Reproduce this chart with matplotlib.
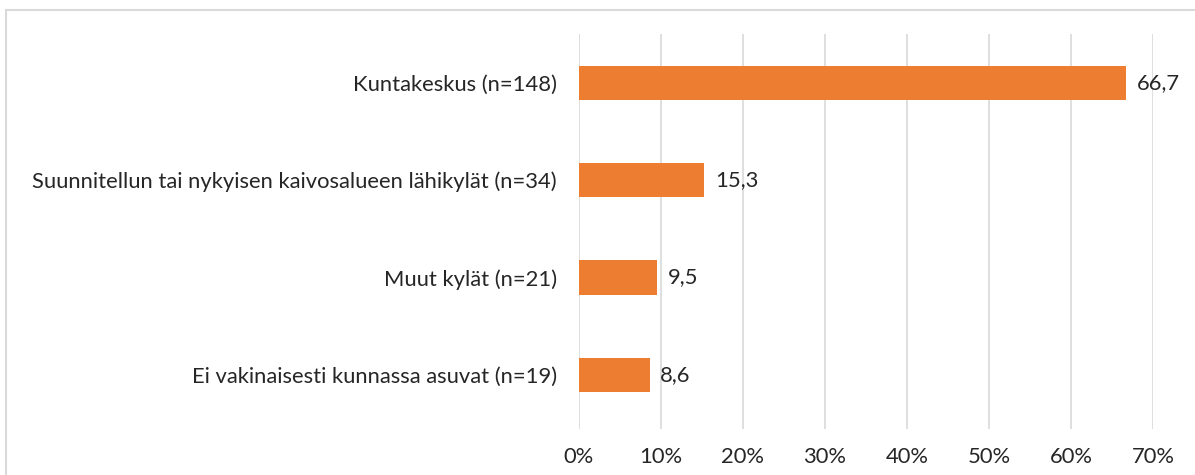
import matplotlib
matplotlib.use("Agg")
import matplotlib.pyplot as plt
from matplotlib.lines import Line2D

categories = [
    "Kuntakeskus (n=148)",
    "Suunnitellun tai nykyisen kaivosalueen lähikylät (n=34)",
    "Muut kylät (n=21)",
    "Ei vakinaisesti kunnassa asuvat (n=19)",
]
values = [66.7, 15.3, 9.5, 8.6]
xticks = [0, 10, 20, 30, 40, 50, 60, 70]

plt.rcParams["font.family"] = ["Lato", "DejaVu Sans"]
fs = 15.8

fig = plt.figure(figsize=(11.95, 4.75), dpi=100)
ax = fig.add_axes([579 / 1195, 1 - 429 / 475, (1153 - 579) / 1195, (429 - 34) / 475])

ypos = list(range(len(categories)))
ax.barh(ypos, values, height=0.35, color="#ED7D31", zorder=3)

for y, v in zip(ypos, values):
    ax.text(v + 1.3, y, f"{v:.1f}".replace(".", ","), va="center", ha="left",
            fontsize=fs, color="#262626")

ax.set_xlim(0, 70)
ax.set_ylim(3.555, -0.5)
ax.set_yticks(ypos)
ax.set_yticklabels(categories, fontsize=fs, color="#262626")
ax.set_xticks(xticks)
ax.set_xticklabels([f"{t}%" for t in xticks], fontsize=fs, color="#262626")
ax.tick_params(axis="both", length=0)
ax.tick_params(axis="y", pad=16)
ax.tick_params(axis="x", pad=13)
ax.grid(axis="x", color="#D9D9D9", linewidth=1.2, zorder=0)
for s in ax.spines.values():
    s.set_visible(False)

# chart border (only top and left edges are inside the crop)
fig.add_artist(Line2D([6 / 1195, 1], [1 - 10 / 475, 1 - 10 / 475], transform=fig.transFigure,
                      color="#D9D9D9", linewidth=1.5))
fig.add_artist(Line2D([6 / 1195, 6 / 1195], [0, 1 - 10 / 475], transform=fig.transFigure,
                      color="#D9D9D9", linewidth=1.5))

fig.savefig("out.png", dpi=100)
